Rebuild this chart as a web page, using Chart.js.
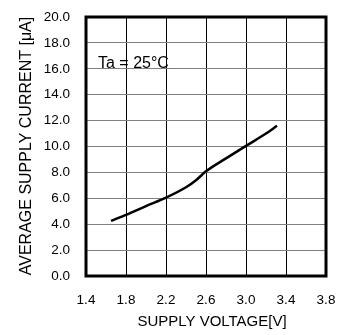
<!DOCTYPE html>
<html>
<head>
<meta charset="utf-8">
<script src="https://cdn.jsdelivr.net/npm/chart.js@4/dist/chart.umd.min.js"></script>
<style>
  html, body { margin: 0; padding: 0; background: #fff; }
  canvas { display: block; }
</style>
</head>
<body>
<canvas id="currentChart" width="345" height="335"></canvas>
<script>
// supply voltage [V] vs average supply current [uA], Ta = 25C
const voltage = [1.65, 1.8, 2.0, 2.2, 2.4, 2.5, 2.6, 2.8, 3.0, 3.2, 3.31];
const current = [4.25, 4.72, 5.4, 6.05, 6.85, 7.4, 8.08, 9.08, 10.05, 11.0, 11.6];

const xTicks = [1.4, 1.8, 2.2, 2.6, 3.0, 3.4, 3.8];
const yTicks = [0, 2, 4, 6, 8, 10, 12, 14, 16, 18, 20];

const xTitle = 'SUPPLY VOLTAGE[V]';
const yTitle = 'AVERAGE SUPPLY CURRENT [μA]';
const noteText = 'Ta = 25°C';
const notePos = [1.52, 16.1];

const fontFamily = "'Liberation Sans', Arial, sans-serif";

const framePlugin = {
  id: 'frame',
  afterDraw(chart) {
    const { ctx, chartArea: a, scales } = chart;
    ctx.save();
    ctx.strokeStyle = '#000';
    ctx.lineWidth = 3;
    ctx.strokeRect(a.left, a.top, a.right - a.left, a.bottom - a.top);

    ctx.fillStyle = '#000';
    // note
    ctx.font = '16px ' + fontFamily;
    ctx.textAlign = 'left';
    ctx.textBaseline = 'alphabetic';
    ctx.fillText(noteText, scales.x.getPixelForValue(notePos[0]), scales.y.getPixelForValue(notePos[1]));

    // axis titles
    ctx.textAlign = 'center';
    ctx.textBaseline = 'middle';
    ctx.font = '15px ' + fontFamily;
    ctx.fillText(xTitle, 212, 321.5);
    ctx.translate(26.5, 146);
    ctx.rotate(-Math.PI / 2);
    ctx.font = '16px ' + fontFamily;
    ctx.fillText(yTitle, 0, 0);
    ctx.restore();
  }
};

new Chart(document.getElementById('currentChart'), {
  type: 'line',
  data: {
    datasets: [{
      data: voltage.map((v, i) => ({ x: v, y: current[i] })),
      borderColor: '#000',
      borderWidth: 2.5,
      pointRadius: 0,
      fill: false,
      cubicInterpolationMode: 'monotone'
    }]
  },
  options: {
    responsive: false,
    animation: false,
    layout: { padding: { top: 17, right: 19, left: 0, bottom: 0 } },
    plugins: { legend: { display: false }, tooltip: { enabled: false } },
    scales: {
      x: {
        type: 'linear',
        min: xTicks[0], max: xTicks[xTicks.length - 1],
        afterBuildTicks: s => { s.ticks = xTicks.map(v => ({ value: v })); },
        afterFit: s => { s.height = 59; s.paddingLeft = 0; s.paddingRight = 0; },
        grid: { color: '#000', lineWidth: 1, drawTicks: false },
        border: { display: false },
        ticks: {
          padding: 16,
          color: '#000',
          font: { family: fontFamily, size: 13.5 },
          callback: v => Number(v).toFixed(1)
        }
      },
      y: {
        min: yTicks[0], max: yTicks[yTicks.length - 1],
        afterBuildTicks: s => { s.ticks = yTicks.map(v => ({ value: v })); },
        afterFit: s => { s.width = 86; s.paddingTop = 0; s.paddingBottom = 0; },
        grid: { color: '#808080', lineWidth: 1, drawTicks: false },
        border: { display: false },
        ticks: {
          padding: 16,
          color: '#000',
          font: { family: fontFamily, size: 13.5 },
          callback: v => Number(v).toFixed(1)
        }
      }
    }
  },
  plugins: [framePlugin]
});
</script>
</body>
</html>
